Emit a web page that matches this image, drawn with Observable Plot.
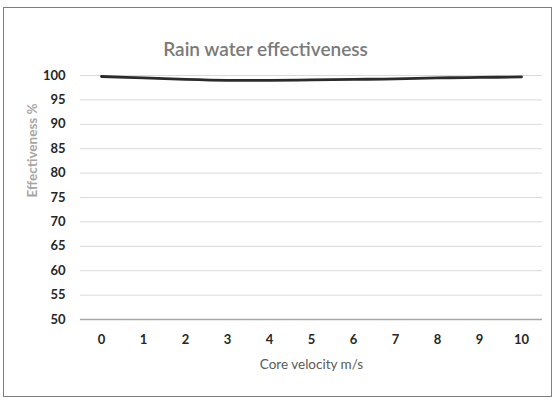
<!DOCTYPE html>
<html><head><meta charset="utf-8">
<script src="https://cdn.jsdelivr.net/npm/d3@7"></script>
<script src="https://cdn.jsdelivr.net/npm/@observablehq/plot@0.6"></script>
<style>
body{margin:0;background:#fff;}
#wrap{position:relative;width:554px;height:400px;}
#border{position:absolute;left:3px;top:7px;width:549px;height:390px;border:1px solid #7f7f7f;box-sizing:border-box;pointer-events:none;}
#chart{position:absolute;left:0;top:0;}
</style></head>
<body><div id="wrap"><div id="chart"></div><div id="border"></div></div>
<script>
const title = "Rain water effectiveness";
const xLabel = "Core velocity m/s";
const yLabel = "Effectiveness %";
const velocity = [0,1,2,3,4,5,6,7,8,9,10];
const effectiveness = [99.8,99.5,99.2,99.0,99.0,99.1,99.2,99.3,99.5,99.6,99.7];
const yTicks = [50,55,60,65,70,75,80,85,90,95,100];

const data = velocity.map((v,i)=>({v, e: effectiveness[i]}));
const font = "Lato, 'Open Sans', sans-serif";

const chart = Plot.plot({
  width: 554, height: 400,
  marginLeft: 80, marginRight: 12, marginTop: 75, marginBottom: 81,
  style: {fontFamily: font, background: "transparent", overflow: "visible"},
  x: {domain: [-0.5, 10.5], ticks: velocity, label: null},
  y: {domain: [50, 100], ticks: yTicks, label: null},
  marks: [
    Plot.gridY(yTicks.filter(t=>t>50), {stroke: "#d9d9d9", strokeOpacity: 1, strokeWidth: 1}),
    Plot.ruleY([50], {stroke: "#a6a6a6", strokeWidth: 1.5}),
    Plot.axisY({ticks: yTicks, tickSize: 0, tickPadding: 15, fontSize: 13, fontWeight: "bold", fill: "#262626", label: null}),
    Plot.axisX({ticks: velocity, tickSize: 0, tickPadding: 15, fontSize: 13, fontWeight: "bold", fill: "#262626", label: null}),
    Plot.line(data, {x: "v", y: "e", stroke: "#2b2b2b", strokeWidth: 2.8, curve: "catmull-rom"}),
    Plot.text([title], {frameAnchor: "top", dy: -33, fontSize: 19, fill: "#7a7a7a", dx: -46, fontWeight: "600"}),
    Plot.text([xLabel], {frameAnchor: "bottom", dy: 49, fontSize: 13.5, fill: "#595959"}),
    Plot.text([yLabel], {frameAnchor: "left", dx: -48, rotate: -90, fontSize: 13.5, fill: "#a6a6a6", fontWeight: "bold"})
  ]
});
document.getElementById("chart").appendChild(chart);
</script></body></html>
